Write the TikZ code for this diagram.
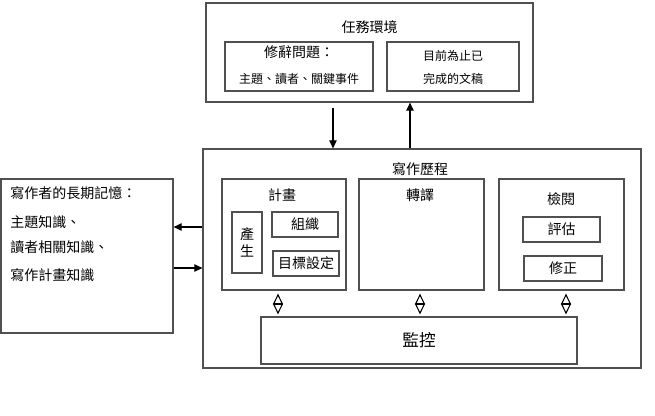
\documentclass[tikz,border=0pt]{standalone}
\usepackage{fontspec}
\setmainfont{Noto Sans CJK TC}
\usetikzlibrary{arrows.meta, positioning, calc}
\definecolor{Box_Gray}{HTML}{505050}

\begin{document}
\begin{tikzpicture}[x=0.75pt, y=-0.75pt,
  size/.style 2 args={minimum width=#1*0.75pt, minimum height=#2*0.75pt},
  box/.style={draw=Box_Gray, line width=0.9pt, rectangle, inner sep=0pt},
  txt/.style={font=\fontsize{10.5}{13}\selectfont, inner sep=0pt},
  small/.style={font=\fontsize{9}{11}\selectfont, inner sep=0pt},
  flow/.style={-{Triangle[length=6pt, width=5.5pt]}, line width=0.8pt},
  link/.style={{Triangle[open, length=8pt, width=7.5pt]}-{Triangle[open, length=8pt, width=7.5pt]}, line width=0.8pt, shorten <=2.25pt, shorten >=1.5pt}]
\useasboundingbox (0,0) rectangle (655,415);
% Task environment
\node[box, size={327}{99}] (task) at (369.5,52.5) {};
\node[txt] (taskT) at (369.5,27) {任務環境};
\node[box, size={148}{49}] (rhet) at (299,66.5) {};
\node[txt] (rhetA) at (299,52) {修辭問題：};
\node[small] (rhetB) at (299,79) {主題、讀者、關鍵事件};
\node[box, size={132}{49}] (draft) at (453,66.5) {};
\node[small] (draftA) at (453,56) {目前為止已};
\node[small] (draftB) at (453,79) {完成的文稿};
% Writing process
\node[box, size={438}{219}] (proc) at (422,258.5) {};
\node[txt] (procT) at (420,169) {寫作歷程};
% Planning
\node[box, size={124}{111}] (plan) at (284,234.5) {};
\node[txt] (planT) at (282,195) {計畫};
\node[box, size={30}{61}, txt, align=center] (gen) at (247,242.5) {產\\生};
\node[box, size={66}{25}, txt] (org) at (305,224.5) {組織};
\node[box, size={66}{25}, txt] (goal) at (306,263.5) {目標設定};
% Translating
\node[box, size={125}{111}] (trans) at (421.5,234.5) {};
\node[txt] (transT) at (420,195) {轉譯};
% Reviewing
\node[box, size={125}{111}] (review) at (561.5,234.5) {};
\node[txt] (reviewT) at (561,199) {檢閱};
\node[box, size={77}{25}, txt] (eval) at (561.5,229.5) {評估};
\node[box, size={78}{25}, txt] (revise) at (563,268.5) {修正};
% Monitor
\node[box, size={316}{47}, font=\fontsize{12.5}{15}\selectfont] (monitor) at (419,340.5) {監控};
% Long-term memory
\node[box, size={172}{154}] (mem) at (87,256) {};
\node[txt, anchor=west] (memA) at (10,193) {寫作者的長期記憶：};
\node[txt, anchor=west] (memB) at (10,222) {主題知識、};
\node[txt, anchor=west] (memC) at (10,247) {讀者相關知識、};
\node[txt, anchor=west] (memD) at (10,275) {寫作計畫知識};
% Arrows
\coordinate (dnX) at (333,0);
\coordinate (upX) at (410,0);
\coordinate (inY) at (0,227);
\coordinate (outY) at (0,268);
\draw[flow, shorten <=3.75pt] (task.south -| dnX) -- (proc.north -| dnX);
\draw[flow] (proc.north -| upX) -- (task.south -| upX);
\draw[flow] (proc.west |- inY) -- (mem.east |- inY);
\draw[flow] (mem.east |- outY) -- (proc.west |- outY);
\foreach \src/\x in {plan/278, trans/420, review/566} {
  \coordinate (lk) at (\x,0);
  \draw[link] (\src.south -| lk) -- (monitor.north -| lk);
}
\end{tikzpicture}
\end{document}
